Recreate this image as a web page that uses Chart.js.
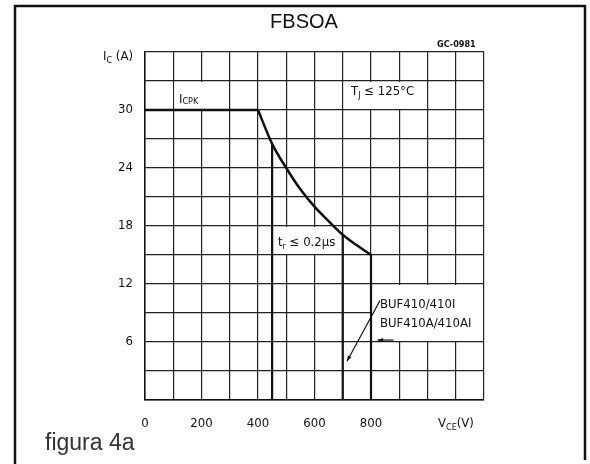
<!DOCTYPE html>
<html>
<head>
<meta charset="utf-8">
<script src="https://cdn.jsdelivr.net/npm/chart.js@4/dist/chart.umd.min.js"></script>
<style>
  html, body { margin: 0; padding: 0; background: #fff; }
  canvas { display: block; }
</style>
</head>
<body>
<canvas id="soaChart" width="590" height="464"></canvas>
<script>
// FBSOA limit: flat I_CPK part, then the falling part
const vceFlat = [0, 400];
const icFlat = [30, 30];
const vceFall = [400, 450, 500, 550, 600, 650, 700, 750, 800];
const icFall = [30, 26.5, 24, 21.8, 20, 18.5, 17.1, 16, 15];
// vertical cut-offs (V) and the current where they meet the curve (A)
const cutoffV = [450, 700, 800];
const cutoffI = [26.5, 17.1, 15];
// tick labels
const xTickLabels = [0, 200, 400, 600, 800];
const yTickLabels = [6, 12, 18, 24, 30];

const condensed = "'DejaVu Sans Condensed', 'DejaVu Sans', sans-serif";

// draw a run of text parts, some of them subscript
function drawParts(ctx, x, y, parts) {
    parts.forEach(([txt, size, dy]) => {
        ctx.font = size + 'px ' + condensed;
        ctx.fillText(txt, x, y + (dy || 0));
        x += ctx.measureText(txt).width;
    });
}

function arrow(ctx, x0, y0, x1, y1) {
    ctx.beginPath();
    ctx.moveTo(x0, y0);
    ctx.lineTo(x1, y1);
    ctx.stroke();
    const a = Math.atan2(y1 - y0, x1 - x0);
    ctx.beginPath();
    ctx.moveTo(x1, y1);
    ctx.lineTo(x1 - 6 * Math.cos(a - 0.35), y1 - 6 * Math.sin(a - 0.35));
    ctx.lineTo(x1 - 6 * Math.cos(a + 0.35), y1 - 6 * Math.sin(a + 0.35));
    ctx.closePath();
    ctx.fill();
}

const decor = {
    id: 'decor',
    beforeDatasetsDraw(chart) {
        const { ctx, scales: { x, y } } = chart;
        ctx.save();
        ctx.fillStyle = '#fff';
        // grid cells left blank behind the labels
        [[100, 300, 30, 33], [700, 1000, 30, 33], [450, 700, 15, 18], [800, 1200, 6, 12]].forEach(([v0, v1, i0, i1]) => {
            const px0 = x.getPixelForValue(v0), px1 = x.getPixelForValue(v1);
            const py0 = y.getPixelForValue(i1), py1 = y.getPixelForValue(i0);
            ctx.fillRect(px0 + 1, py0 + 1, px1 - px0 - 2, py1 - py0 - 2);
        });
        ctx.restore();
    },
    afterDraw(chart) {
        const { ctx, scales: { x, y } } = chart;
        ctx.save();
        ctx.fillStyle = '#111';
        ctx.strokeStyle = '#111';
        ctx.textBaseline = 'alphabetic';
        ctx.textAlign = 'left';

        // frame
        ctx.lineWidth = 2.5;
        ctx.beginPath();
        ctx.moveTo(15, 464);
        ctx.lineTo(15, 6);
        ctx.lineTo(585, 6);
        ctx.lineTo(585, 460);
        ctx.stroke();

        // title
        ctx.font = "20px 'Liberation Sans', Arial, sans-serif";
        ctx.textAlign = 'center';
        ctx.fillText('FBSOA', 304, 28);
        ctx.textAlign = 'left';

        ctx.font = 'bold 9px ' + condensed;
        ctx.fillText('GC-0981', 437, 47);

        drawParts(ctx, 103, 60, [['I', 13], ['C', 9, 3], [' (A)', 13]]);
        drawParts(ctx, 438, 427, [['V', 13], ['CE', 9, 3], ['(V)', 13]]);
        drawParts(ctx, 179, 103, [['I', 13], ['CPK', 9, 1]]);
        drawParts(ctx, 351, 95, [['T', 13], ['J', 9, 3], [' ≤ 125°C', 13]]);
        drawParts(ctx, 278, 246, [['t', 13], ['r', 9, 3], [' ≤ 0.2μs', 13]]);

        ctx.font = '13px ' + condensed;
        ctx.fillText('BUF410/410I', 380, 308);
        ctx.fillText('BUF410A/410AI', 380, 327);

        // pointers from the type labels to their cut-off lines
        ctx.lineWidth = 1.2;
        arrow(ctx, x.getPixelForValue(832), y.getPixelForValue(10.3), x.getPixelForValue(715), y.getPixelForValue(4.0));
        arrow(ctx, x.getPixelForValue(880), y.getPixelForValue(6.2), x.getPixelForValue(823), y.getPixelForValue(6.2));

        ctx.fillStyle = '#333';
        ctx.font = "23px 'Liberation Sans', Arial, sans-serif";
        ctx.fillText('figura 4a', 45, 450);
        ctx.restore();
    }
};

const lineStyle = { borderColor: '#111', showLine: true, pointRadius: 0 };
const datasets = [
    { ...lineStyle, borderWidth: 2.5, data: vceFlat.map((v, i) => ({ x: v, y: icFlat[i] })) },
    { ...lineStyle, borderWidth: 2.5, cubicInterpolationMode: 'monotone', data: vceFall.map((v, i) => ({ x: v, y: icFall[i] })) }
];
cutoffV.forEach((v, i) => {
    datasets.push({ ...lineStyle, borderWidth: 2.2, data: [{ x: v, y: cutoffI[i] }, { x: v, y: 0 }] });
});

new Chart(document.getElementById('soaChart').getContext('2d'), {
    type: 'scatter',
    data: { datasets: datasets },
    plugins: [decor],
    options: {
        responsive: false,
        animation: false,
        devicePixelRatio: 1,
        layout: { padding: { top: 52, right: 106, left: 0, bottom: 0 } },
        plugins: { legend: { display: false }, tooltip: { enabled: false } },
        scales: {
            x: {
                type: 'linear',
                min: 0,
                max: 1200,
                afterFit: (s) => { s.height = 64; },
                ticks: {
                    stepSize: 100,
                    autoSkip: false,
                    maxRotation: 0,
                    padding: 16,
                    color: '#111',
                    font: { family: condensed, size: 13 },
                    callback: (v) => xTickLabels.includes(v) ? String(v) : ''
                },
                grid: { color: '#222', lineWidth: 1.2, drawTicks: false },
                border: { color: '#111', width: 1.5 }
            },
            y: {
                min: 0,
                max: 36,
                afterFit: (s) => { s.width = 145; },
                ticks: {
                    stepSize: 3,
                    autoSkip: false,
                    padding: 12,
                    color: '#111',
                    font: { family: condensed, size: 13 },
                    callback: (v) => yTickLabels.includes(v) ? String(v) : ''
                },
                grid: { color: '#222', lineWidth: 1.2, drawTicks: false },
                border: { color: '#111', width: 1.5 }
            }
        }
    }
});
</script>
</body>
</html>
